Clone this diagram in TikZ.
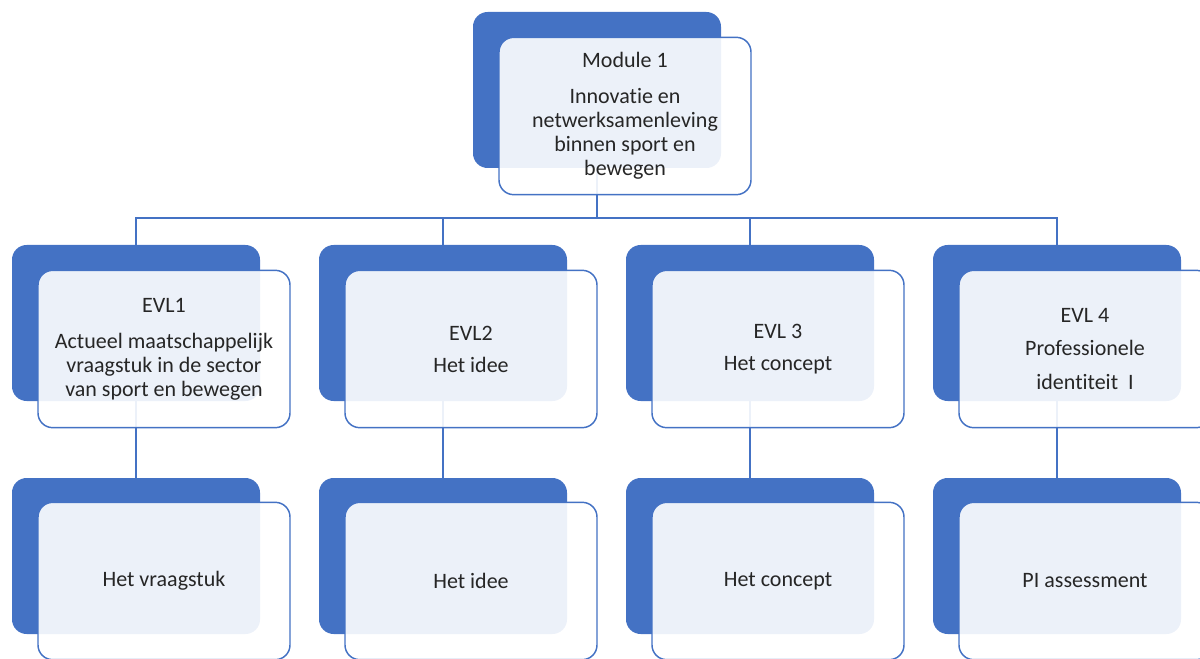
\documentclass[tikz,border=0pt]{standalone}
\usepackage{fontspec}
\setmainfont{Carlito}[Ligatures=NoCommon]
\usetikzlibrary{positioning}
\definecolor{evlblue}{HTML}{4472C4}
\definecolor{evltext}{HTML}{262626}
\tikzset{
  backbox/.style={fill=evlblue,rounded corners=11pt,minimum width=186pt,minimum height=117pt,inner sep=0pt},
  frontbox/.style={draw=evlblue,line width=1.1pt,fill=white,fill opacity=0.9,text opacity=1,
    rounded corners=11pt,minimum width=189pt,minimum height=118pt,inner sep=0pt,align=center,
    text=evltext,font=\fontsize{16.5}{18}\selectfont},
  link/.style={draw=evlblue,line width=1.4pt}
}

\begin{document}
\begin{tikzpicture}[x=0.75pt,y=-0.75pt]
% \draw[help lines] (0,0) grid (1200,659);
\useasboundingbox (0,0) rectangle (1200,659);
% blue backing boxes
\node (m0b) [backbox] at (597,90) {};
\node (e1b) [backbox] at (136,323) {};
\node (e2b) [backbox] at (443,323) {};
\node (e3b) [backbox] at (750,323) {};
\node (e4b) [backbox] at (1057,323) {};
\node (t1b) [backbox] at (136,556) {};
\node (t2b) [backbox] at (443,556) {};
\node (t3b) [backbox] at (750,556) {};
\node (t4b) [backbox] at (1057,556) {};
%
\coordinate (bus) at (597,218);
\draw[link] (m0b.south) -- (bus);
\draw[link] (bus) -| (e1b.north);
\draw[link] (bus) -| (e2b.north);
\draw[link] (bus) -| (e3b.north);
\draw[link] (bus) -| (e4b.north);
\draw[link] (e1b.south) -- (t1b.north);
\draw[link] (e2b.south) -- (t2b.north);
\draw[link] (e3b.south) -- (t3b.north);
\draw[link] (e4b.south) -- (t4b.north);
% front boxes
\node (m0) [frontbox] at ([shift={(28,26)}]m0b.center) {Module 1\\[9pt]Innovatie en\\netwerksamenleving\\binnen sport en\\bewegen};
\node (e1) [frontbox] at ([shift={(28,26)}]e1b.center) {EVL1\\[9pt]Actueel maatschappelijk\\vraagstuk in de sector\\van sport en bewegen};
\node (e2) [frontbox] at ([shift={(28,26)}]e2b.center) {EVL2\\[6pt]Het idee};
\node (e3) [frontbox] at ([shift={(28,26)}]e3b.center) {EVL 3\\[6pt]Het concept};
\node (e4) [frontbox] at ([shift={(28,26)}]e4b.center) {EVL 4\\[7pt]Professionele\\[7pt]identiteit\ \ I};
\node (t1) [frontbox] at ([shift={(28,25)}]t1b.center) {Het vraagstuk};
\node (t2) [frontbox] at ([shift={(28,25)}]t2b.center) {Het idee};
\node (t3) [frontbox] at ([shift={(28,25)}]t3b.center) {Het concept};
\node (t4) [frontbox] at ([shift={(28,25)}]t4b.center) {PI assessment};
\end{tikzpicture}
\end{document}
